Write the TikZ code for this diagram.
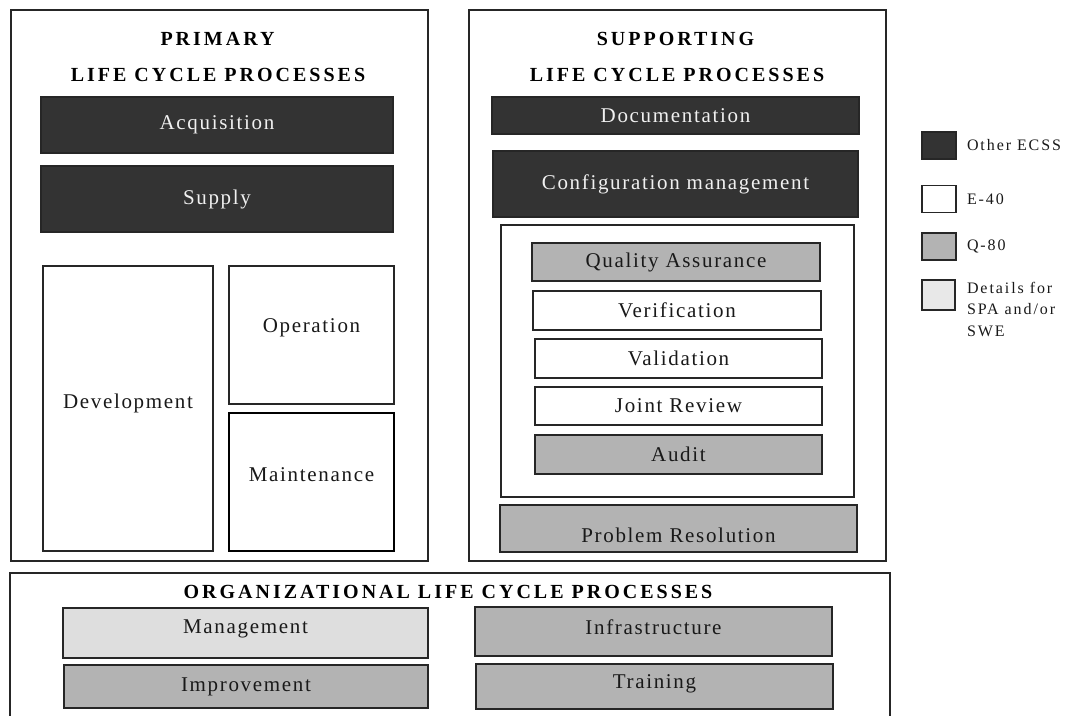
\documentclass[tikz,border=0pt]{standalone}
\usepackage{fontspec}
\setmainfont{Liberation Serif}
\newfontfamily\boxfont{Liberation Serif}[LetterSpace=8]
\newfontfamily\legfont{Liberation Serif}[LetterSpace=12]
\newfontfamily\headfont{Liberation Serif}[LetterSpace=15]
\definecolor{darkfill}{HTML}{333333}
\definecolor{grayfill}{HTML}{B3B3B3}
\definecolor{lightfill}{HTML}{DEDEDE}
\definecolor{legendlight}{HTML}{E8E8E8}
\definecolor{lighttext}{HTML}{F0F0F0}
\definecolor{framecol}{HTML}{262626}
\newcommand\liftby[2]{\raisebox{#1}[\height][\depth]{#2}}
\begin{document}
\begin{tikzpicture}[x=1pt,y=-1pt,
  every node/.style={inner sep=0pt, outer sep=0pt},
  sz/.style 2 args={minimum width=#1, minimum height=#2},
  frame/.style={draw=framecol, line width=1.4pt, fill=white},
  proc/.style={draw=framecol, line width=1.4pt, font=\boxfont\fontsize{21}{25}\selectfont, text=black!90},
  darkproc/.style={proc, fill=darkfill, text=lighttext},
  e40/.style={proc, fill=white},
  q80/.style={proc, fill=grayfill},
  spa/.style={proc, fill=lightfill},
  heading/.style={font=\headfont\bfseries\fontsize{20}{24}\selectfont, text=black},
  legbox/.style={draw=framecol, line width=1.4pt, minimum width=34, minimum height=27},
  legtext/.style={anchor=west, font=\legfont\fontsize{16}{21.5}\selectfont, text=black!90},
]
\useasboundingbox (0,0) rectangle (1071,715);
\clip (0,0) rectangle (1071,715);

% primary
\node[frame, sz={417}{551}] (primary) at (219.5,285.5) {};
\node[heading] (ptitle1) at (217.5,39) {PRIMARY};
\node[heading] (ptitle2) at (218,75) {LIFE CYCLE PROCESSES};
\node[darkproc, sz={352}{56}] (acq) at (217,125) {Acquisition};
\node[darkproc, sz={352}{66}] (sup) at (217,199) {Supply};
\node[e40, sz={170}{285}] (dev) at (128,408.5) {\liftby{5pt}{Development}};
\node[e40, sz={165}{138}] (op) at (311.5,335) {\liftby{7pt}{Operation}};
\node[e40, sz={165}{138}, line width=2.4pt, draw=black] (maint) at (311.5,482) {\liftby{7pt}{Maintenance}};

% supporting
\node[frame, sz={417}{551}] (supporting) at (677.5,285.5) {};
\node[heading] (stitle1) at (675.5,39) {SUPPORTING};
\node[heading] (stitle2) at (677,75) {LIFE CYCLE PROCESSES};
\node[darkproc, sz={367}{37}] (doc) at (675.5,115.5) {Documentation};
\node[darkproc, sz={365}{66}] (cm) at (675.5,184) {Configuration management};
\node[frame, sz={353}{272}] (qgroup) at (677.5,361) {};
\node[q80, sz={288}{38}] (qa) at (676,262) {Quality Assurance};
\node[e40, sz={288}{39}] (ver) at (677,310.5) {Verification};
\node[e40, sz={287}{39}] (val) at (678.5,358.5) {Validation};
\node[e40, sz={287}{38}] (jr) at (678.5,406) {Joint Review};
\node[q80, sz={287}{39}] (aud) at (678.5,454.5) {Audit};
\node[q80, sz={357}{47}] (pr) at (678.5,528.5) {\liftby{-7pt}{Problem Resolution}};

% organizational
\node[frame, sz={880}{200}] (org) at (450,673) {};
\node[heading] (otitle) at (448,592) {ORGANIZATIONAL LIFE CYCLE PROCESSES};
\node[spa, sz={365}{50}] (mgmt) at (245.5,633) {\liftby{4pt}{Management}};
\node[q80, sz={364}{43}] (impr) at (246,686.5) {Improvement};
\node[q80, sz={357}{49}] (infra) at (653.5,631.5) {\liftby{4pt}{Infrastructure}};
\node[q80, sz={357}{45}] (train) at (654.5,686.5) {\liftby{3pt}{Training}};

% legend
\node[legbox, fill=darkfill] (lk1) at (939,145.5) {};
\node[legtext] (lt1) at (967,145.5) {Other ECSS};
\node[legbox, fill=white] (lk2) at (939,199) {};
\node[legtext] (lt2) at (967,199) {E-40};
\node[legbox, fill=grayfill] (lk3) at (939,246.5) {};
\node[legtext] (lt3) at (967,246.5) {Q-80};
\node[legbox, fill=legendlight, minimum width=33, minimum height=30] (lk4) at (938.5,295) {};
\node[legtext, anchor=north west, align=left] (lt4) at (967,282) {Details for\\SPA and/or\\SWE};
\end{tikzpicture}
\end{document}
